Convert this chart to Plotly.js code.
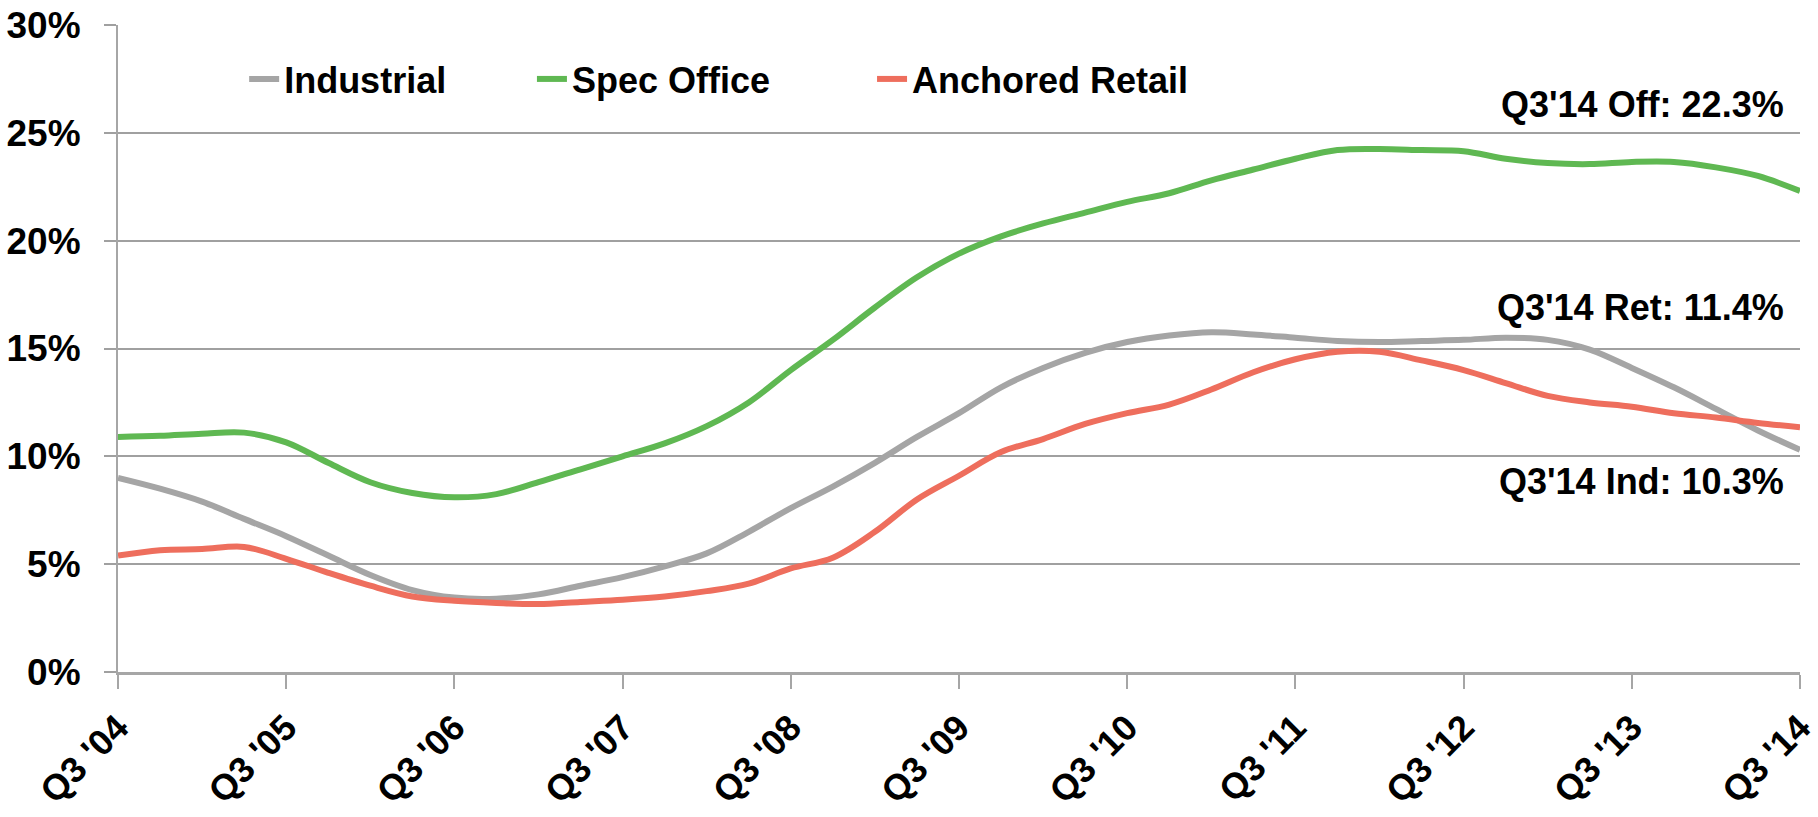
<!DOCTYPE html>
<html>
<head>
<meta charset="utf-8">
<script src="https://cdn.plot.ly/plotly-3.0.1.min.js"></script>
<style>
  html, body { margin: 0; padding: 0; background: #ffffff; }
  #chart { width: 1818px; height: 817px; }
</style>
</head>
<body>
<div id="chart"></div>
<script>
// Quarter categories (Q3 2004 .. Q3 2014)
const quarters = [
  "Q3 '04","Q4 '04","Q1 '05","Q2 '05","Q3 '05","Q4 '05","Q1 '06","Q2 '06",
  "Q3 '06","Q4 '06","Q1 '07","Q2 '07","Q3 '07","Q4 '07","Q1 '08","Q2 '08",
  "Q3 '08","Q4 '08","Q1 '09","Q2 '09","Q3 '09","Q4 '09","Q1 '10","Q2 '10",
  "Q3 '10","Q4 '10","Q1 '11","Q2 '11","Q3 '11","Q4 '11","Q1 '12","Q2 '12",
  "Q3 '12","Q4 '12","Q1 '13","Q2 '13","Q3 '13","Q4 '13","Q1 '14","Q2 '14",
  "Q3 '14"
];

// Tick labels shown on the x axis
const tickLabels = ["Q3 '04","Q3 '05","Q3 '06","Q3 '07","Q3 '08","Q3 '09","Q3 '10","Q3 '11","Q3 '12","Q3 '13","Q3 '14"];

// Series names
const seriesNames = ["Industrial", "Spec Office", "Anchored Retail"];

// Vacancy rates (%)
const industrial = [
  9.0, 8.5, 7.9, 7.1, 6.3, 5.4, 4.5, 3.8,
  3.45, 3.4, 3.6, 4.0, 4.4, 4.9, 5.5, 6.5,
  7.6, 8.6, 9.7, 10.9, 12.0, 13.2, 14.1, 14.8,
  15.3, 15.6, 15.75, 15.65, 15.5, 15.35, 15.3, 15.35,
  15.4, 15.5, 15.4, 14.95, 14.1, 13.2, 12.2, 11.2,
  10.3
];
const specOffice = [
  10.9, 10.95, 11.05, 11.1, 10.65, 9.7, 8.8, 8.3,
  8.1, 8.25, 8.8, 9.4, 10.0, 10.6, 11.4, 12.5,
  14.0, 15.4, 16.9, 18.3, 19.4, 20.2, 20.8, 21.3,
  21.8, 22.2, 22.8, 23.3, 23.8, 24.2, 24.25, 24.2,
  24.15, 23.8, 23.6, 23.55, 23.65, 23.65, 23.4, 23.0,
  22.3
];
const anchoredRetail = [
  5.4, 5.65, 5.7, 5.8, 5.25, 4.6, 4.0, 3.5,
  3.3, 3.2, 3.15, 3.25, 3.35, 3.5, 3.75, 4.1,
  4.8, 5.3, 6.5, 8.0, 9.1, 10.2, 10.8, 11.5,
  12.0, 12.4, 13.1, 13.9, 14.5, 14.85, 14.85, 14.45,
  14.0, 13.4, 12.8, 12.5, 12.3, 12.0, 11.8, 11.55,
  11.35
];

// End-of-series callouts
const callouts = [
  { text: "Q3'14 Off: 22.3%", y: 26.3 },
  { text: "Q3'14 Ret: 11.4%", y: 16.9 },
  { text: "Q3'14 Ind: 10.3%", y: 8.85 }
];

const colors = ["#A5A5A5", "#5FB852", "#EE6E5D"];
const FONT = "'Liberation Sans', Arial, sans-serif";
const legendIds = ['legend', 'legend2', 'legend3'];
const legendX = [0.075, 0.2461, 0.4483];

const seriesData = [industrial, specOffice, anchoredRetail];
const traces = seriesData.map((vals, i) => ({
  type: 'scatter',
  mode: 'lines',
  name: seriesNames[i],
  legend: legendIds[i],
  x: quarters,
  y: vals,
  line: { color: colors[i], width: 6, shape: 'spline', smoothing: 1 },
  hoverinfo: 'skip'
}));

const textFont = { family: FONT, size: 36, color: '#000000', weight: 'bold' };

const layout = {
  width: 1818,
  height: 817,
  margin: { l: 118, r: 18, t: 25, b: 145, pad: 0 },
  paper_bgcolor: '#ffffff',
  plot_bgcolor: '#ffffff',
  font: textFont,
  showlegend: true,
  xaxis: {
    type: 'category',
    range: [0, quarters.length - 1],
    tickmode: 'array',
    tickvals: tickLabels,
    ticktext: tickLabels,
    tickangle: -45,
    ticks: 'outside',
    ticklen: 14,
    tickwidth: 2,
    tickcolor: '#A6A6A6',
    showline: true,
    linecolor: '#A6A6A6',
    linewidth: 3,
    showgrid: false,
    zeroline: false,
    ticklabelstandoff: 3,
    tickfont: { family: FONT, size: 36, color: '#000000', weight: 'bold' },
    fixedrange: true
  },
  yaxis: {
    range: [0, 30],
    tickmode: 'linear',
    tick0: 0,
    dtick: 5,
    ticksuffix: '%',
    ticks: 'outside',
    ticklen: 12,
    tickwidth: 2,
    tickcolor: '#A0A0A0',
    showline: true,
    linecolor: '#A6A6A6',
    linewidth: 2,
    showgrid: true,
    gridcolor: '#A0A0A0',
    gridwidth: 2,
    zeroline: false,
    ticklabelstandoff: 16,
    tickfont: { family: FONT, size: 37, color: '#000000', weight: 'bold' },
    fixedrange: true
  },
  annotations: callouts.map(c => ({
    xref: 'paper', yref: 'y',
    x: 1, y: c.y,
    xanchor: 'right', yanchor: 'middle',
    xshift: -14,
    text: c.text,
    showarrow: false,
    font: textFont
  }))
};

legendIds.forEach((id, i) => {
  layout[id] = {
    orientation: 'h',
    x: legendX[i], xanchor: 'left',
    y: 0.9165, yanchor: 'middle',
    bgcolor: 'rgba(0,0,0,0)',
    font: textFont
  };
});

Plotly.newPlot('chart', traces, layout, { displayModeBar: false, staticPlot: true });
</script>
</body>
</html>
